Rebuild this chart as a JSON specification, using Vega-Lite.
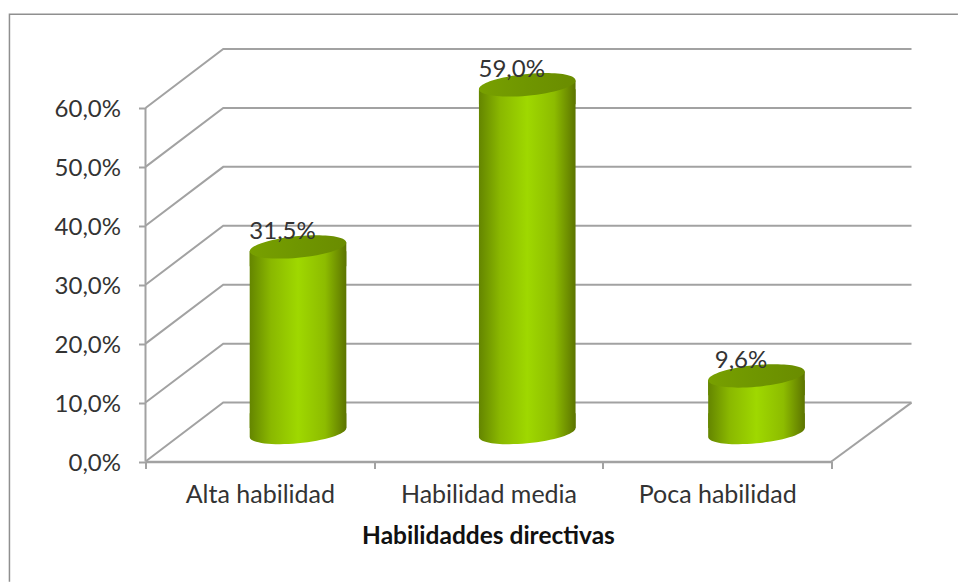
{
  "$schema": "https://vega.github.io/schema/vega-lite/v6.json",
  "width": 766,
  "height": 412.5,
  "autosize": "none",
  "padding": {"left": 145.5, "top": 49, "right": 46.5, "bottom": 120.5},
  "background": "white",
  "config": {"view": {"stroke": null}},
  "datasets": {
    "habilidades": [
      {"categoria": "Alta habilidad", "valor": 31.5, "etiqueta": "31,5%"},
      {"categoria": "Habilidad media", "valor": 59.0, "etiqueta": "59,0%"},
      {"categoria": "Poca habilidad", "valor": 9.6, "etiqueta": "9,6%"}
    ],
    "paredes": [
      {"s": "g0", "i": 0, "x": 0, "y": 0}, {"s": "g0", "i": 1, "x": 0.34, "y": 10}, {"s": "g0", "i": 2, "x": 3.35, "y": 10},
      {"s": "g10", "i": 0, "x": 0, "y": 10}, {"s": "g10", "i": 1, "x": 0.34, "y": 20}, {"s": "g10", "i": 2, "x": 3.35, "y": 20},
      {"s": "g20", "i": 0, "x": 0, "y": 20}, {"s": "g20", "i": 1, "x": 0.34, "y": 30}, {"s": "g20", "i": 2, "x": 3.35, "y": 30},
      {"s": "g30", "i": 0, "x": 0, "y": 30}, {"s": "g30", "i": 1, "x": 0.34, "y": 40}, {"s": "g30", "i": 2, "x": 3.35, "y": 40},
      {"s": "g40", "i": 0, "x": 0, "y": 40}, {"s": "g40", "i": 1, "x": 0.34, "y": 50}, {"s": "g40", "i": 2, "x": 3.35, "y": 50},
      {"s": "g50", "i": 0, "x": 0, "y": 50}, {"s": "g50", "i": 1, "x": 0.34, "y": 60}, {"s": "g50", "i": 2, "x": 3.35, "y": 60},
      {"s": "g60", "i": 0, "x": 0, "y": 60}, {"s": "g60", "i": 1, "x": 0.34, "y": 70}, {"s": "g60", "i": 2, "x": 3.35, "y": 70},
      {"s": "eje", "i": 0, "x": 0, "y": 0}, {"s": "eje", "i": 1, "x": 0, "y": 60},
      {"s": "suelo", "i": 0, "x": 3, "y": 0}, {"s": "suelo", "i": 1, "x": 3.35, "y": 10}
    ],
    "marco": [
      {"i": 0, "x": -0.595, "y": -20.4},
      {"i": 1, "x": -0.595, "y": 75.9},
      {"i": 2, "x": 3.553, "y": 75.9}
    ]
  },
  "layer": [
    {
      "data": {"name": "marco"},
      "mark": {"type": "line", "color": "#8f8f8f", "strokeWidth": 1.5, "clip": false},
      "encoding": {
        "x": {"field": "x", "type": "quantitative", "scale": {"domain": [0, 3.35], "nice": false, "zero": false}, "axis": null},
        "y": {"field": "y", "type": "quantitative", "scale": {"domain": [0, 70], "nice": false}, "axis": null},
        "order": {"field": "i"}
      }
    },
    {
      "data": {"name": "paredes"},
      "mark": {"type": "line", "color": "#a2a2a2", "strokeWidth": 2, "clip": false},
      "encoding": {
        "x": {"field": "x", "type": "quantitative", "scale": {"domain": [0, 3.35], "nice": false, "zero": false}, "axis": null},
        "y": {"field": "y", "type": "quantitative", "scale": {"domain": [0, 70], "nice": false}, "axis": null},
        "detail": {"field": "s"},
        "order": {"field": "i"}
      }
    },
    {
      "data": {"name": "habilidades"},
      "mark": {"type": "point", "opacity": 0},
      "encoding": {
        "x": {
          "field": "categoria", "type": "nominal", "sort": null,
          "scale": {"type": "band", "range": [0, 686], "paddingInner": 0, "paddingOuter": 0},
          "axis": {
            "orient": "bottom",
            "title": "Habilidaddes directivas",
            "titleFont": "Lato", "titleFontSize": 24.5, "titleFontWeight": "bold", "titleColor": "#111111",
            "titleX": 342.5, "titleY": 75, "titleBaseline": "middle",
            "labelAngle": 0, "labelFont": "Lato", "labelFontSize": 25, "labelColor": "#333333", "labelPadding": 14,
            "tickBand": "extent", "tickSize": 7, "tickColor": "#a2a2a2", "tickWidth": 2,
            "domainColor": "#a2a2a2", "domainWidth": 2.5, "grid": false
          }
        },
        "y": {
          "field": "valor", "type": "quantitative",
          "scale": {"domain": [0, 70], "nice": false},
          "axis": {
            "orient": "left",
            "title": null,
            "values": [0, 10, 20, 30, 40, 50, 60],
            "labelExpr": "replace(format(datum.value, '.1f'), '.', ',') + '%'",
            "labelFont": "Lato", "labelFontSize": 24, "labelColor": "#333333", "labelPadding": 18, "labelOffset": 1.5,
            "tickSize": 7, "tickColor": "#a2a2a2", "tickWidth": 2,
            "domain": false, "grid": false
          }
        }
      }
    },
    {
      "data": {"name": "habilidades"},
      "mark": {
        "type": "point", "filled": true, "opacity": 1, "size": 9332,
        "shape": "M-1 .0913A1.004 .2236 -5.5 1 0 1 -.0913L1 -.4L-1 -.4Z",
        "fill": {"x1": 0, "y1": 0, "x2": 1, "y2": 0, "gradient": "linear", "stops": [
          {"offset": 0, "color": "#648500"}, {"offset": 0.22, "color": "#8ab800"}, {"offset": 0.5, "color": "#9fd800"}, {"offset": 0.78, "color": "#8dbc00"}, {"offset": 1, "color": "#5c7400"}
        ]}
      },
      "encoding": {
        "x": {"field": "categoria", "type": "nominal", "sort": null, "scale": {"type": "band", "range": [37.9, 725.6], "paddingInner": 0, "paddingOuter": 0}, "axis": null},
        "y": {"datum": 0, "type": "quantitative", "scale": {"domain": [-4.92, 65.08], "nice": false, "zero": false}, "axis": null}
      }
    },
    {
      "data": {"name": "habilidades"},
      "mark": {
        "type": "bar", "size": 96.6, "yOffset": 4.4, "y2Offset": -4.4,
        "fill": {"x1": 0, "y1": 0, "x2": 1, "y2": 0, "gradient": "linear", "stops": [
          {"offset": 0, "color": "#648500"}, {"offset": 0.22, "color": "#8ab800"}, {"offset": 0.5, "color": "#9fd800"}, {"offset": 0.78, "color": "#8dbc00"}, {"offset": 1, "color": "#5c7400"}
        ]}
      },
      "encoding": {
        "x": {"field": "categoria", "type": "nominal", "sort": null, "scale": {"type": "band", "range": [37.9, 725.6], "paddingInner": 0, "paddingOuter": 0}, "axis": null},
        "y": {"field": "valor", "type": "quantitative", "stack": null, "scale": {"domain": [-4.92, 65.08], "nice": false, "zero": false}, "axis": null},
        "y2": {"datum": 0}
      }
    },
    {
      "data": {"name": "habilidades"},
      "mark": {
        "type": "point", "filled": true, "opacity": 1, "size": 9332,
        "shape": "M-1 .0913L1 -.0913L1 .4L-1 .4Z",
        "fill": {"x1": 0, "y1": 0, "x2": 1, "y2": 0, "gradient": "linear", "stops": [
          {"offset": 0, "color": "#648500"}, {"offset": 0.22, "color": "#8ab800"}, {"offset": 0.5, "color": "#9fd800"}, {"offset": 0.78, "color": "#8dbc00"}, {"offset": 1, "color": "#5c7400"}
        ]}
      },
      "encoding": {
        "x": {"field": "categoria", "type": "nominal", "sort": null, "scale": {"type": "band", "range": [37.9, 725.6], "paddingInner": 0, "paddingOuter": 0}, "axis": null},
        "y": {"field": "valor", "type": "quantitative", "scale": {"domain": [-4.92, 65.08], "nice": false, "zero": false}, "axis": null}
      }
    },
    {
      "data": {"name": "habilidades"},
      "mark": {
        "type": "point", "filled": true, "opacity": 1, "size": 9332,
        "shape": "M-1 .0913A1.004 .2236 -5.5 1 1 1 -.0913A1.004 .2236 -5.5 1 1 -1 .0913Z",
        "fill": {"x1": 0, "y1": 0, "x2": 1, "y2": 0, "gradient": "linear", "stops": [
          {"offset": 0, "color": "#78a000"}, {"offset": 0.5, "color": "#6f9600"}, {"offset": 1, "color": "#6a8c00"}
        ]}
      },
      "encoding": {
        "x": {"field": "categoria", "type": "nominal", "sort": null, "scale": {"type": "band", "range": [37.9, 725.6], "paddingInner": 0, "paddingOuter": 0}, "axis": null},
        "y": {"field": "valor", "type": "quantitative", "scale": {"domain": [-4.92, 65.08], "nice": false, "zero": false}, "axis": null}
      }
    },
    {
      "data": {"name": "habilidades"},
      "mark": {"type": "text", "font": "Lato", "fontSize": 24, "color": "#333333", "dx": -15.5, "dy": -15, "baseline": "middle", "align": "center"},
      "encoding": {
        "x": {"field": "categoria", "type": "nominal", "sort": null, "scale": {"type": "band", "range": [37.9, 725.6], "paddingInner": 0, "paddingOuter": 0}, "axis": null},
        "y": {"field": "valor", "type": "quantitative", "scale": {"domain": [-4.92, 65.08], "nice": false, "zero": false}, "axis": null},
        "text": {"field": "etiqueta", "type": "nominal"}
      }
    }
  ],
  "resolve": {"scale": {"x": "independent", "y": "independent"}, "axis": {"x": "independent", "y": "independent"}}
}
